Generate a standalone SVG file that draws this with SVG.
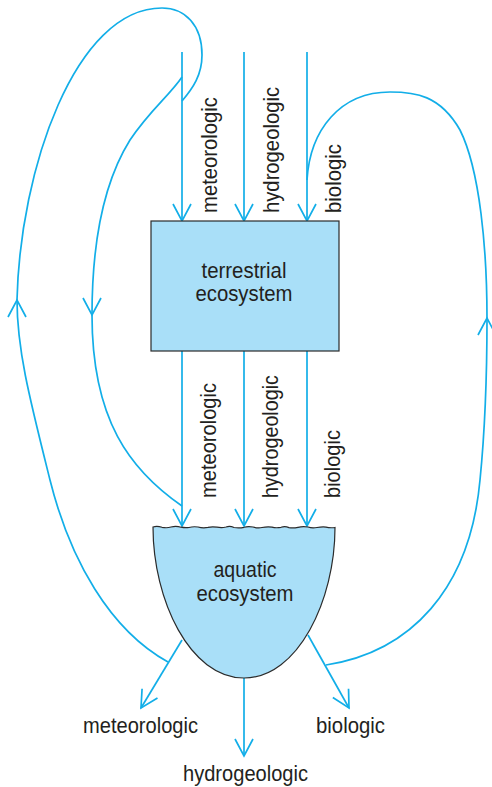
<svg xmlns="http://www.w3.org/2000/svg" width="492" height="787" viewBox="0 0 492 787">
<defs>
<style>
.c{fill:none;stroke:#12aee8;stroke-width:1.7}
.ca{fill:none;stroke:#12aee8;stroke-width:1.7;marker-end:url(#ah)}
.n{fill:#a9dff8;stroke:#2b2b2b;stroke-width:1.2}
.t{font-family:"Liberation Sans",Arial,sans-serif;font-size:22px;fill:#231f20}
.m{text-anchor:middle}
</style>
<marker id="ah" markerUnits="userSpaceOnUse" orient="auto" overflow="visible" markerWidth="20" markerHeight="20" refX="0" refY="0" viewBox="-20 -10 20 20">
<path d="M-17,-9 L0,0 L-17,9" fill="none" stroke="#12aee8" stroke-width="1.7"/>
</marker>
</defs>
<rect width="492" height="787" fill="#ffffff"/>
<g id="connectors">
<line class="ca" x1="182" y1="52" x2="182" y2="221"/>
<line class="ca" x1="244" y1="52" x2="244" y2="221"/>
<line class="ca" x1="307" y1="52" x2="307" y2="221"/>
<line class="ca" x1="182" y1="351" x2="182" y2="526"/>
<line class="ca" x1="244" y1="351" x2="244" y2="526"/>
<line class="ca" x1="307" y1="351" x2="307" y2="526"/>
<line class="ca" x1="182" y1="640" x2="141" y2="708"/>
<line class="ca" x1="244" y1="678" x2="244" y2="756"/>
<line class="ca" x1="308" y1="635" x2="349" y2="708"/>
<path class="ca" d="M168,662 C110,630 70,560 50,480 C30,400 17,350 17,300"/>
<path class="c" d="M17,300 C20,170 75,8 162,8 C185,8 202,25 202,55 C202,75 193,88 182,101"/>
<path class="ca" d="M182,77 C170,95 150,110 130,140 C105,180 92,240 92,315"/>
<path class="c" d="M92,315 C92,420 130,470 182,506"/>
<path class="ca" d="M326,665 C410,652 470,590 480,480 C486,420 487,360 487,318"/>
<path class="c" d="M487,318 C487,250 480,170 460,130 C440,95 415,92 390,92 C340,92 310,130 307,180"/>
</g>
<g id="terrestrial">
<rect class="n" x="151" y="221" width="188" height="130"/>
<text class="t m" x="244" y="278" textLength="85" lengthAdjust="spacingAndGlyphs">terrestrial</text>
<text class="t m" x="244" y="301" textLength="97" lengthAdjust="spacingAndGlyphs">ecosystem</text>
</g>
<g id="aquatic">
<path class="n" d="M153,527 q4,-1.2 9,0.3 q5,1 9,-0.3 q5,-1.4 10,0.2 q4,0.8 8,0.3 q4,-1.2 9,-0.5 q5,1.4 10,0.4 q4,-1 9,-0.2 q5,0.8 9,-0.2 q4,-1.4 8,0.5 q5,1 10,-0.2 q4,-1.2 9,-0.3 q5,1.4 9,0.5 q5,-1 10,-0.4 q4,1.2 9,0.2 q4,-1.4 8,0.3 q4,0.8 9,-0.3 q5,-1.2 10,-0.3 q4,1.4 9,0.5 q5,-0.8 9,-0.4 q4,1 9,0.4 C335,600 298,678 244,678 C190,678 153,600 153,527 Z"/>
<text class="t m" x="245" y="577" textLength="63" lengthAdjust="spacingAndGlyphs">aquatic</text>
<text class="t m" x="245" y="601" textLength="97" lengthAdjust="spacingAndGlyphs">ecosystem</text>
</g>
<g id="labels-top">
<text class="t" transform="translate(217,213) rotate(-90)" textLength="116" lengthAdjust="spacingAndGlyphs">meteorologic</text>
<text class="t" transform="translate(279,213) rotate(-90)" textLength="126" lengthAdjust="spacingAndGlyphs">hydrogeologic</text>
<text class="t" transform="translate(341,213) rotate(-90)" textLength="69" lengthAdjust="spacingAndGlyphs">biologic</text>
</g>
<g id="labels-middle">
<text class="t" transform="translate(216,498) rotate(-90)" textLength="115" lengthAdjust="spacingAndGlyphs">meteorologic</text>
<text class="t" transform="translate(278,498) rotate(-90)" textLength="123" lengthAdjust="spacingAndGlyphs">hydrogeologic</text>
<text class="t" transform="translate(340,498) rotate(-90)" textLength="68" lengthAdjust="spacingAndGlyphs">biologic</text>
</g>
<g id="labels-bottom">
<text class="t" x="83" y="733" textLength="115" lengthAdjust="spacingAndGlyphs">meteorologic</text>
<text class="t" x="316" y="733" textLength="69" lengthAdjust="spacingAndGlyphs">biologic</text>
<text class="t" x="183" y="781" textLength="125" lengthAdjust="spacingAndGlyphs">hydrogeologic</text>
</g>
</svg>
